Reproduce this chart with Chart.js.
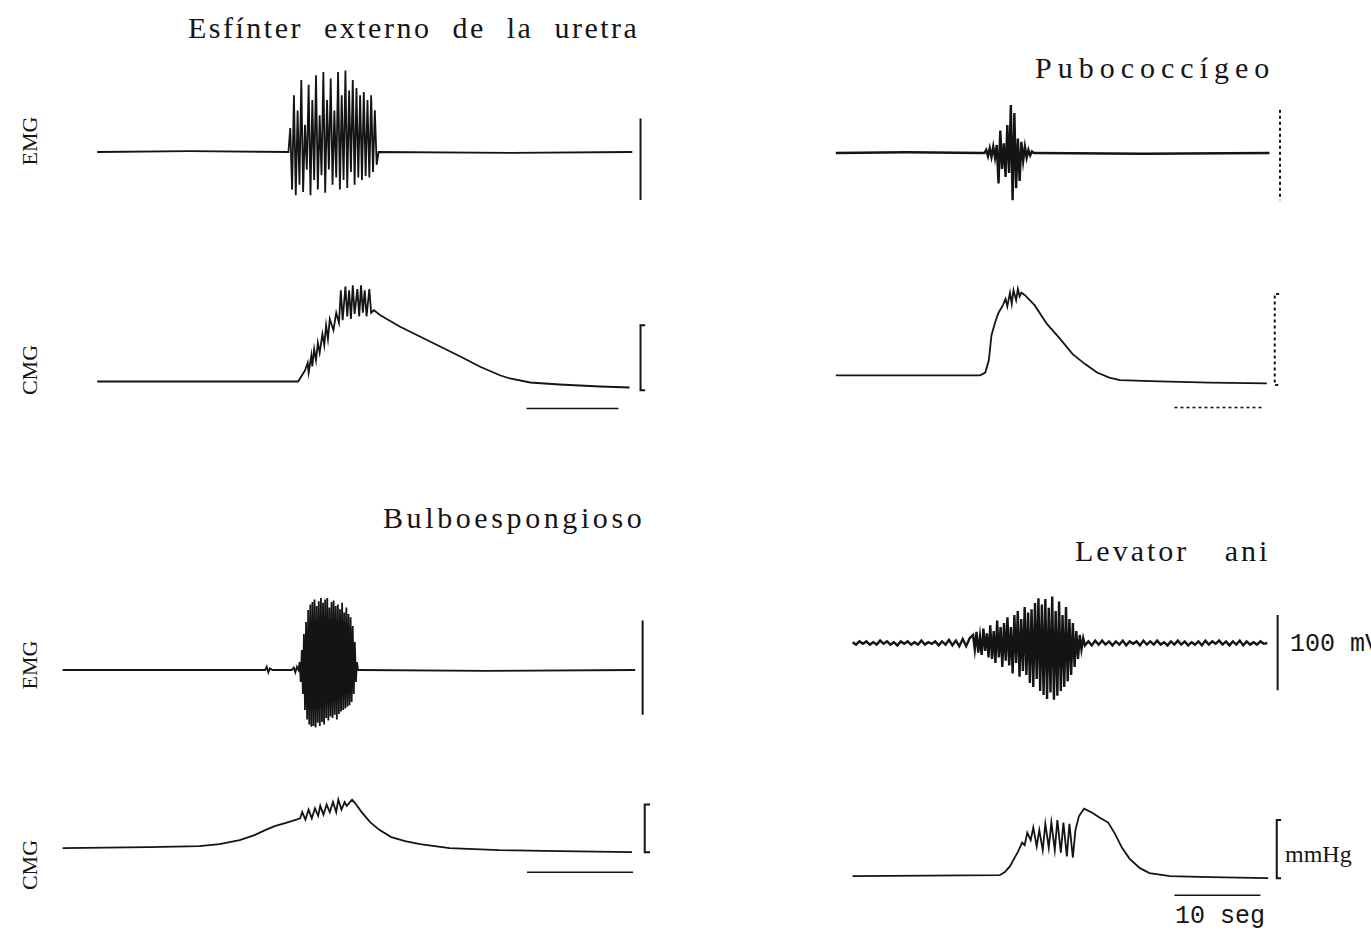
<!DOCTYPE html>
<html>
<head>
<meta charset="utf-8">
<title>EMG / CMG</title>
<script src="https://cdn.jsdelivr.net/npm/chart.js@4.4.1/dist/chart.umd.min.js"></script>
<style>
  html, body { margin: 0; padding: 0; background: #fff; }
  #fig { position: relative; width: 1371px; height: 936px; overflow: hidden; background: #fff; }
  #fig canvas { position: absolute; }
  .title {
    position: absolute; white-space: pre; line-height: 1; color: #151515;
    font-family: "Liberation Serif", "DejaVu Serif", serif; font-size: 30px;
    letter-spacing: 3px; word-spacing: 10px;
  }
  .ylab {
    position: absolute; white-space: pre; line-height: 1; color: #151515;
    font-family: "Liberation Serif", "DejaVu Serif", serif; font-size: 22px;
    transform: translate(-50%, -50%) rotate(-90deg);
  }
  .unit {
    position: absolute; white-space: pre; line-height: 1; color: #151515;
    font-family: "Liberation Mono", "DejaVu Sans Mono", monospace; font-size: 25px;
  }
</style>
</head>
<body>
<div id="fig">
  <div class="title" style="left:188px; top:13px; letter-spacing:2.5px; word-spacing:11px;">Esfínter externo de la uretra</div>
  <div class="title" style="left:1035px; top:53px; letter-spacing:6px;">Pubococcígeo</div>
  <div class="title" style="left:383px; top:503px; letter-spacing:3.6px;">Bulboespongioso</div>
  <div class="title" style="left:1075px; top:536px; letter-spacing:3px; word-spacing:25px;">Levator ani</div>

  <div class="ylab" style="left:30px; top:141px;">EMG</div>
  <div class="ylab" style="left:30px; top:370px;">CMG</div>
  <div class="ylab" style="left:30px; top:665px;">EMG</div>
  <div class="ylab" style="left:30px; top:865px;">CMG</div>

  <div class="unit" style="left:1290px; top:632px;">100 mV</div>
  <div class="unit" style="left:1285px; top:842px; font-family:'Liberation Serif',serif; font-size:24px;">mmHg</div>
  <div class="unit" style="left:1175px; top:904px;">10 seg</div>
</div>

<script>
// time in seconds, EMG in µV, CMG in mmHg (relative to resting pressure)

// --- Esfínter externo de la uretra ---
const uretraEmgBase = [[0, 0], [10, 1], [20.8, 0], [30.6, 0], [45, -1], [58.2, 0]];
const uretraEmgBurstStart = 21.0;
const uretraEmgBurst = [30, -47, 71, -54, 52, -41, 90, -50, 34, -22, 84, -54, 65, -35, 96, -47,
  46, -29, 100, -51, 65, -22, 92, -41, 52, -32, 100, -47, 71, -35, 102, -45,
  77, -25, 90, -41, 80, -32, 71, -35, 75, -30, 65, -32, 71, -25, 52, -16];
const uretraCmg = [[0, 0], [21.85, 0], [22.6, 8.8], [22.9, 15], [23.0, 7], [23.3, 21], [23.4, 12],
  [23.6, 26], [23.8, 17], [24.0, 31], [24.2, 23], [24.5, 38], [24.7, 29], [24.9, 45], [25.1, 34],
  [25.3, 50], [25.7, 41], [26.0, 55], [26.3, 47], [26.5, 73], [26.7, 49], [27.0, 76], [27.2, 52],
  [27.4, 73], [27.6, 50], [27.8, 77], [28.0, 54], [28.3, 74], [28.5, 52], [28.7, 77], [28.9, 55],
  [29.1, 73], [29.3, 52], [29.6, 74], [29.8, 55], [30.1, 57], [30.8, 53], [32.9, 44], [35.1, 36],
  [37.3, 28], [39.5, 20], [41.6, 12], [43.8, 5], [44.9, 2.4], [47.1, -0.8], [50.3, -2.4],
  [54.7, -4], [57.9, -4.8]];

// --- Pubococcígeo ---
const puboEmgBase = [[0, 0], [8, 1], [16.7, 0], [22.7, 0], [35, -1], [49.3, 0]];
const puboEmgBurstStart = 16.9;
const puboEmgBurst = [0, 4, -4, 6, -5, 8, -6, 10, -38, 28, -20, 12, -30, 35, -25, 60, -59, 50,
  -44, 18, -35, 14, -10, 8, -6, 4, -3, 2, 0];
const puboCmg = [[0, 0.8], [16.4, 0.8], [17.0, 3], [17.4, 13], [17.7, 33], [18.1, 43], [18.5, 51],
  [19.0, 57], [19.3, 62], [19.5, 56], [19.8, 67], [20.0, 58], [20.2, 69], [20.5, 61], [20.7, 70],
  [20.9, 64], [21.1, 67], [21.5, 65], [22.6, 57], [24.0, 42], [25.5, 30], [26.9, 18], [28.3, 10],
  [29.7, 3], [31.1, -1], [32.3, -3], [36.8, -4], [42.5, -5], [49.0, -5.6]];

// --- Bulboespongioso ---
const bulboEmgBase = [[0, 0], [10, 0], [19.1, 0], [19.25, 4], [19.4, -3], [19.55, 2], [19.8, 0],
  [21.6, 0], [21.8, 3], [21.95, -3], [22.1, 4], [22.25, 0], [28.0, 0], [40, -1], [54, 0]];
const bulboEmgBurstStart = 22.36;
const bulboEmgBurst = [10, -15, 25, -30, 45, -50, 60, -62, 75, -68, 82, -71, 85, -70, 88, -72,
  80, -66, 86, -70, 90, -65, 84, -68, 88, -60, 90, -63, 78, -58, 85, -60, 87, -56, 80, -62,
  82, -55, 76, -52, 84, -50, 72, -48, 78, -46, 70, -44, 66, -40, 55, -30, 35, -15, 10, 0];
const bulboCmg = [[0, -0.8], [8.2, 0], [12.9, 0.8], [14.8, 2.4], [16.7, 5.6], [18.1, 9.6],
  [19.1, 13.6], [20.0, 16.8], [20.9, 19], [21.9, 21.6], [22.4, 23], [22.6, 28], [22.9, 22],
  [23.2, 30], [23.5, 23], [23.8, 31], [24.1, 25], [24.3, 33], [24.6, 26], [24.9, 34], [25.2, 28],
  [25.5, 36], [25.8, 28], [26.0, 38], [26.3, 30], [26.6, 36], [26.8, 33], [27.3, 38], [27.6, 35],
  [28.2, 28], [29.0, 20], [29.9, 13.6], [31.0, 8], [32.3, 4.8], [33.7, 2.4], [36.5, -0.8],
  [41.2, -2.4], [46.9, -3.2], [53.7, -4]];

// --- Levator ani ---
const levatorEmgPreStart = 0;
const levatorEmgPre = [1, -2, 2, -1, 2, -2, 1, -2, 3, -1, 2, -2, 1, -3, 2, -1, 2, -2, 1, -2,
  3, -2, 1, -1, 2, -3, 2, -2, 4, -3, 3, -4, 5, -4, 6];
const levatorEmgBurstStart = 14.0;
const levatorEmgBurst = [10, -8, 14, -12, 8, -15, 18, -10, 12, -18,
  22, -20, 15, -25, 28, -18, 20, -30, 25, -22,
  32, -28, 20, -38, 35, -25, 40, -42, 30, -35,
  45, -40, 38, -50, 42, -55, 50, -45, 56, -60,
  48, -65, 55, -70, 44, -62, 58, -71, 40, -66,
  52, -60, 35, -55, 45, -48, 30, -40, 25, -30,
  15, -20, 10, -8, 6];
const levatorEmgPostStart = 27.0;
const levatorEmgPost = [-3, 2, -3, 3, -2, 3, -2, 2, -3, 2, -2, 3, -3, 2, -1, 2, -3, 3, -2, 2,
  -2, 3, -2, 1, -3, 2, -2, 3, -2, 2, -3, 1, -2, 2, -3, 3, -2, 2, -1, 3,
  -2, 2, -3, 2, -2, 3, -3, 2, -2, 1, -2, 2, -1, 0];
const levatorCmg = [[0, -0.8], [17.1, 0], [17.7, 2.4], [18.3, 7.2], [18.8, 13.6], [19.2, 18.4],
  [19.7, 26], [20.0, 24], [20.3, 34], [20.7, 28], [21.0, 38], [21.4, 23], [21.7, 36], [22.1, 20],
  [22.4, 41], [22.8, 22], [23.1, 42], [23.5, 20], [23.8, 44], [24.2, 18], [24.5, 42], [24.9, 15],
  [25.2, 41], [25.6, 14], [25.9, 36], [26.3, 47], [26.9, 53], [27.8, 50], [28.7, 46], [29.7, 42],
  [30.5, 33], [31.3, 22], [32.2, 13], [33.4, 5.6], [34.5, 1.6], [36.9, -0.8], [41.5, -1.6],
  [48.3, -2.4]];

const TIME_BAR_SEC = 10;
const INK = '#141414';

function pairs(list) {
  return list.map(p => ({ x: p[0], y: p[1] }));
}
function sampled(start, step, values) {
  return values.map((v, i) => ({ x: start + i * step, y: v }));
}
function merged(...parts) {
  return [].concat(...parts).sort((a, b) => a.x - b.x);
}

const fig = document.getElementById('fig');

// one small chart per trace; origin = page position of t=0 / value 0
function trace(o) {
  const w = Math.round((o.xMax - o.xMin) * o.pxPerSec);
  const h = Math.round((o.yMax - o.yMin) * o.pxPerUnit);
  const c = document.createElement('canvas');
  c.width = w; c.height = h;
  c.style.width = w + 'px'; c.style.height = h + 'px';
  c.style.left = (o.origin[0] + o.xMin * o.pxPerSec) + 'px';
  c.style.top = (o.origin[1] - o.yMax * o.pxPerUnit) + 'px';
  fig.appendChild(c);

  const sets = [{ data: o.data, borderWidth: o.lineWidth || 1.8 }];
  const dash = o.dashed ? [3, 3] : [];
  if (o.bar) {
    const b = o.bar;
    const pts = b.bracket
      ? [{ x: b.at + 0.5, y: b.from }, { x: b.at, y: b.from }, { x: b.at, y: b.to }, { x: b.at + 0.5, y: b.to }]
      : [{ x: b.at, y: b.from }, { x: b.at, y: b.to }];
    sets.push({ data: pts, borderWidth: 2, borderDash: dash });
  }
  if (o.timeBar) {
    const t = o.timeBar;
    sets.push({
      data: [{ x: t.from, y: t.level }, { x: t.from + TIME_BAR_SEC, y: t.level }],
      borderWidth: 1.6, borderDash: dash
    });
  }
  sets.forEach(s => { s.borderColor = INK; s.clip = false; s.pointRadius = 0; s.tension = 0; });

  new Chart(c, {
    type: 'line',
    data: { datasets: sets },
    options: {
      responsive: false,
      animation: false,
      events: [],
      parsing: false,
      layout: { padding: 0 },
      plugins: { legend: { display: false }, tooltip: { enabled: false } },
      scales: {
        x: { type: 'linear', min: o.xMin, max: o.xMax, display: false },
        y: { type: 'linear', min: o.yMin, max: o.yMax, display: false }
      }
    }
  });
}

// Esfínter externo de la uretra
trace({
  origin: [97, 152], pxPerSec: 9.2, pxPerUnit: 0.8, xMin: -1, xMax: 61, yMin: -100, yMax: 125,
  data: merged(pairs(uretraEmgBase), sampled(uretraEmgBurstStart, 0.2, uretraEmgBurst)),
  bar: { at: 59.1, from: 42, to: -60 }
});
trace({
  origin: [97, 381], pxPerSec: 9.2, pxPerUnit: 1.25, xMin: -1, xMax: 61, yMin: -30, yMax: 90,
  data: pairs(uretraCmg),
  bar: { at: 59.1, from: 45, to: -7, bracket: true },
  timeBar: { from: 46.7, level: -21.6 }
});

// Pubococcígeo
trace({
  origin: [836, 153], pxPerSec: 8.8, pxPerUnit: 0.8, xMin: -1, xMax: 53, yMin: -100, yMax: 125,
  data: merged(pairs(puboEmgBase), sampled(puboEmgBurstStart, 0.2, puboEmgBurst)),
  lineWidth: 2.4,
  bar: { at: 50.5, from: 54, to: -59 }, dashed: true
});
trace({
  origin: [836, 376], pxPerSec: 8.8, pxPerUnit: 1.25, xMin: -1, xMax: 53, yMin: -35, yMax: 90,
  data: pairs(puboCmg),
  bar: { at: 49.9, from: 66, to: -7, bracket: true },
  timeBar: { from: 38.5, level: -25 }, dashed: true
});

// Bulboespongioso
trace({
  origin: [63, 670], pxPerSec: 10.6, pxPerUnit: 0.8, xMin: -1, xMax: 57, yMin: -100, yMax: 125,
  data: merged(pairs(bulboEmgBase), sampled(bulboEmgBurstStart, 0.1, bulboEmgBurst)),
  bar: { at: 54.7, from: 62, to: -56 }
});
trace({
  origin: [63, 847], pxPerSec: 10.6, pxPerUnit: 1.25, xMin: -1, xMax: 57, yMin: -35, yMax: 60,
  data: pairs(bulboCmg),
  bar: { at: 54.9, from: 34, to: -4, bracket: true },
  timeBar: { from: 43.8, level: -20 }
});

// Levator ani
trace({
  origin: [853, 643], pxPerSec: 8.6, pxPerUnit: 0.8, xMin: -1, xMax: 52, yMin: -100, yMax: 125,
  data: merged(sampled(levatorEmgPreStart, 0.4, levatorEmgPre),
               sampled(levatorEmgBurstStart, 0.2, levatorEmgBurst),
               sampled(levatorEmgPostStart, 0.4, levatorEmgPost)),
  lineWidth: 2.4,
  bar: { at: 49.4, from: 35, to: -59 }
});
trace({
  origin: [853, 875], pxPerSec: 8.6, pxPerUnit: 1.25, xMin: -1, xMax: 52, yMin: -35, yMax: 60,
  data: pairs(levatorCmg),
  bar: { at: 49.3, from: 44, to: -2.4, bracket: true },
  timeBar: { from: 37.4, level: -16 }
});
</script>
</body>
</html>
